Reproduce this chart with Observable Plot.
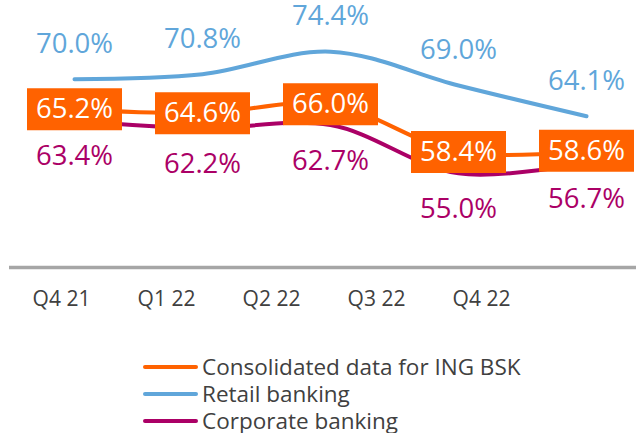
<!DOCTYPE html>
<html>
<head>
<meta charset="utf-8">
<script src="https://cdn.jsdelivr.net/npm/d3@7"></script>
<script src="https://cdn.jsdelivr.net/npm/@observablehq/plot@0.6"></script>
<style>
  html, body { margin: 0; padding: 0; background: #fff; }
  #wrap { position: relative; width: 636px; height: 433px; overflow: hidden; font-family: "Open Sans", sans-serif; }
  #main { position: absolute; left: 0; top: 0; }
  #axis { position: absolute; left: 0; top: 280px; }
  #legend { position: absolute; left: 143px; top: 353px; }
  .row { display: flex; align-items: center; height: 27px; }
  .row svg { margin-right: 4px; }
  .row span { font-size: 22.5px; color: #404040; line-height: 22px; }
</style>
</head>
<body>
<div id="wrap">
  <div id="main"></div>
  <div id="axis"></div>
  <div id="legend"></div>
</div>
<script>
const quarters = ["Q4 21", "Q1 22", "Q2 22", "Q3 22", "Q4 22"];
const consolidated = [65.2, 64.6, 66.0, 58.4, 58.6];
const retail = [70.0, 70.8, 74.4, 69.0, 64.1];
const corporate = [63.4, 62.2, 62.7, 55.0, 56.7];
const seriesNames = ["Consolidated data for ING BSK", "Retail banking", "Corporate banking"];
const colors = { consolidated: "#FF6200", retail: "#60A6DA", corporate: "#AB0066" };

const rows = (vals) => quarters.map((q, i) => ({ q, v: vals[i], label: vals[i].toFixed(1) + "%" }));
const cons = rows(consolidated), ret = rows(retail), corp = rows(corporate);

const box = { draw(ctx) { ctx.rect(-47.5, -21, 95, 42); } };

const main = Plot.plot({
  width: 636, height: 300,
  marginLeft: 9, marginRight: 0, marginTop: 16, marginBottom: 33,
  x: { type: "point", domain: quarters, padding: 0.449, align: 0.565, axis: null },
  y: { domain: [40, 80], axis: null },
  style: { fontFamily: "Open Sans, sans-serif", background: "#fff" },
  marks: [
    Plot.ruleY([40], { stroke: "#a6a6a6", strokeWidth: 3.5 }),
    Plot.line(ret, { x: "q", y: "v", stroke: colors.retail, strokeWidth: 4, curve: "catmull-rom", strokeLinecap: "round" }),
    Plot.line(corp, { x: "q", y: "v", stroke: colors.corporate, strokeWidth: 4, curve: "catmull-rom", strokeLinecap: "round" }),
    Plot.line(cons, { x: "q", y: "v", stroke: colors.consolidated, strokeWidth: 4, curve: "catmull-rom" }),
    Plot.dot(cons, { x: "q", y: "v", symbol: box, fill: colors.consolidated, stroke: null }),
    Plot.text(cons, { x: "q", y: "v", text: "label", fill: "#fff", fontSize: 27.5 }),
    Plot.text(ret, { x: "q", y: "v", text: "label", fill: colors.retail, fontSize: 27.5, dy: -35 }),
    Plot.text(corp, { x: "q", y: "v", text: "label", fill: colors.corporate, fontSize: 27.5, dy: 36 })
  ]
});
document.getElementById("main").appendChild(main);

const axis = Plot.plot({
  width: 636, height: 38,
  marginLeft: 61, marginRight: 155, marginTop: 0, marginBottom: 0,
  x: { type: "point", domain: quarters, padding: 0, axis: null },
  style: { fontFamily: "Open Sans, sans-serif", background: "transparent" },
  marks: [
    Plot.text(quarters, { x: d => d, frameAnchor: "middle", fill: "#404040", fontSize: 21 })
  ]
});
document.getElementById("axis").appendChild(axis);

const legend = document.getElementById("legend");
const legendColors = [colors.consolidated, colors.retail, colors.corporate];
seriesNames.forEach((name, i) => {
  const row = document.createElement("div");
  row.className = "row";
  row.innerHTML = `<svg width="55" height="8"><line x1="2" y1="4" x2="53" y2="4" stroke="${legendColors[i]}" stroke-width="4" stroke-linecap="round"/></svg><span>${name}</span>`;
  legend.appendChild(row);
});
</script>
</body>
</html>
